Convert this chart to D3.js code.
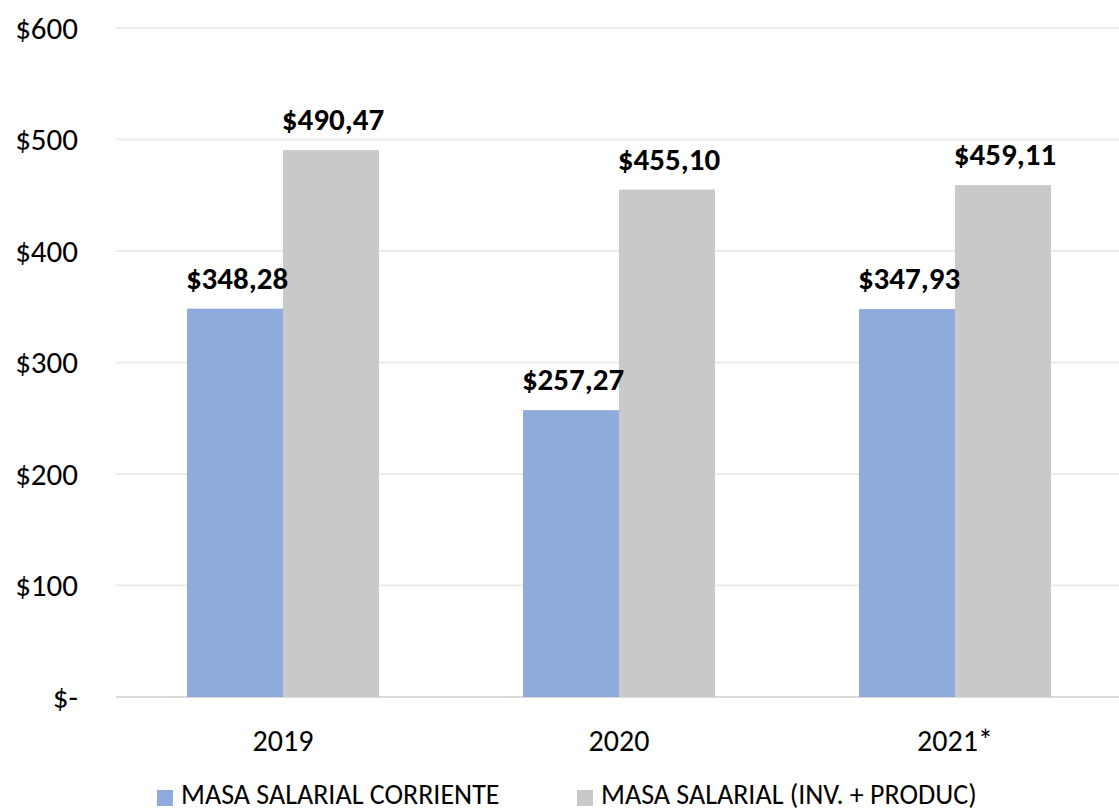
<!DOCTYPE html>
<html>
<head>
<meta charset="utf-8">
<script src="https://cdn.jsdelivr.net/npm/d3@7"></script>
<style>
  body { margin: 0; background: #fff; }
  svg text { font-family: Carlito, Calibri, Lato, "Open Sans", sans-serif; fill: #000; }
</style>
</head>
<body>
<svg id="chart" width="1119" height="811"></svg>
<script>
var years = ["2019", "2020", "2021*"];
var corriente = [348.28, 257.27, 347.93];
var invProduc = [490.47, 455.10, 459.11];
var seriesNames = ["MASA SALARIAL CORRIENTE", "MASA SALARIAL (INV. + PRODUC)"];
var seriesColors = ["#8faadc", "#c9c9c9"];
var yTicks = [0, 100, 200, 300, 400, 500, 600];

var svg = d3.select("#chart"),
  width = +svg.attr("width"),
  height = +svg.attr("height");

var y = d3.scaleLinear().domain([0, 600]).range([697, 28]);

var x0 = d3.scaleBand()
  .domain(years)
  .range([115, 1123])
  .paddingInner(0.4286)
  .paddingOuter(0.2143);

var x1 = d3.scaleBand()
  .domain([0, 1])
  .range([0, x0.bandwidth()]);

function money(v) {
  return "$" + d3.format(".2f")(v).replace(".", ",");
}

// gridlines
svg.append("g")
  .selectAll("line")
  .data(yTicks)
  .enter().append("line")
  .attr("x1", 116)
  .attr("x2", width)
  .attr("y1", function(d) { return y(d); })
  .attr("y2", function(d) { return y(d); })
  .attr("stroke", function(d) { return d === 0 ? "#d9d9d9" : "#ececec"; })
  .attr("stroke-width", 2);

// y labels
svg.append("g")
  .selectAll("text")
  .data(yTicks)
  .enter().append("text")
  .attr("x", 78)
  .attr("y", function(d) { return y(d); })
  .attr("dy", "0.35em")
  .attr("text-anchor", "end")
  .style("font-size", "31px")
  .text(function(d) { return d === 0 ? "$-" : "$" + d; });

var rows = years.map(function(yr, i) {
  return { year: yr, vals: [corriente[i], invProduc[i]] };
});

var groups = svg.append("g")
  .selectAll("g")
  .data(rows)
  .enter().append("g")
  .attr("transform", function(d) { return "translate(" + x0(d.year) + ",0)"; });

groups.selectAll("rect")
  .data(function(d) { return d.vals; })
  .enter().append("rect")
  .attr("x", function(d, i) { return x1(i); })
  .attr("width", x1.bandwidth())
  .attr("y", function(d) { return y(d); })
  .attr("height", function(d) { return y(0) - y(d); })
  .attr("fill", function(d, i) { return seriesColors[i]; });

groups.selectAll("text.val")
  .data(function(d) { return d.vals; })
  .enter().append("text")
  .attr("class", "val")
  .attr("x", function(d, i) { return x1(i) + x1.bandwidth() / 2 + 2; })
  .attr("y", function(d) { return y(d) - 20; })
  .attr("text-anchor", "middle")
  .style("font-size", "31px")
  .style("font-weight", "bold")
  .text(function(d) { return money(d); });

// x labels
svg.append("g")
  .selectAll("text")
  .data(years)
  .enter().append("text")
  .attr("x", function(d) { return x0(d) + x0.bandwidth() / 2; })
  .attr("y", 751)
  .attr("text-anchor", "middle")
  .style("font-size", "30px")
  .text(function(d) { return d; });

// legend
var legendX = [157, 577];
var legend = svg.append("g")
  .selectAll("g")
  .data(seriesNames)
  .enter().append("g")
  .attr("transform", function(d, i) { return "translate(" + legendX[i] + ",790)"; });

legend.append("rect")
  .attr("width", 16)
  .attr("height", 16)
  .attr("fill", function(d, i) { return seriesColors[i]; });

legend.append("text")
  .attr("x", 24)
  .attr("y", 14)
  .style("font-size", "28px")
  .text(function(d) { return d; });
</script>
</body>
</html>
